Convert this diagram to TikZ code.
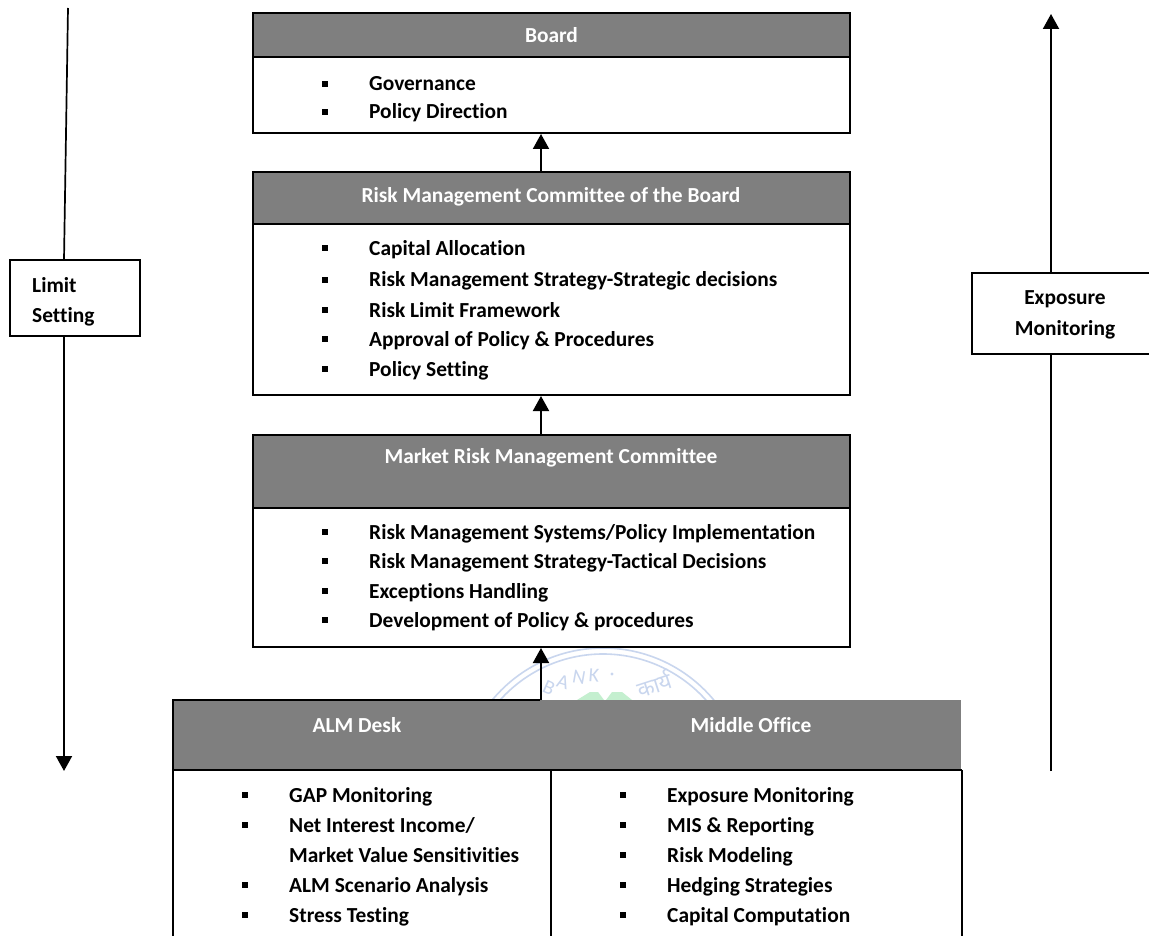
\documentclass[tikz,border=0pt]{standalone}
\usepackage{fontspec}
\setmainfont{Carlito}[Ligatures=NoCommon]
\newfontfamily\devfont[Script=Devanagari]{Noto Sans}
\usetikzlibrary{arrows.meta}
\definecolor{hdr}{HTML}{7F7F7F}
\definecolor{seal}{HTML}{C9D6EE}
\definecolor{sealg}{HTML}{C4EFCF}
\tikzset{
  x=1pt,y=-1pt,
  line/.style={black,line width=1.7pt},
  box/.style={draw=black,line width=1.8pt,fill=white},
  head/.style={draw=black,line width=1.8pt,fill=hdr},
  headtext/.style={text=white,font=\bfseries\fontsize{21.4}{24}\selectfont,anchor=center,inner sep=0pt},
  item/.style={font=\bfseries\fontsize{21.4}{24}\selectfont,anchor=base west,inner sep=0pt},
  lab/.style={font=\bfseries\fontsize{21.4}{24}\selectfont,inner sep=0pt,anchor=base},
  bul/.style={fill=black,minimum size=6pt,inner sep=0pt,outer sep=0pt,shape=rectangle},
  arr/.style={-{Triangle[length=15pt,width=16pt]},line width=2pt},
  wm/.style={text=seal,font=\fontsize{20}{24}\selectfont,inner sep=0pt}
}
\newcommand{\itm}[3]{\node[bul] at (#1-44,#3-7) {}; \node[item] at (#1,#3) {#2};}
\begin{document}
\begin{tikzpicture}
\useasboundingbox (0,0) rectangle (1149,936);
\fill[white] (0,0) rectangle (1149,936);
% watermark
\begin{scope}
\clip (400,640) rectangle (760,700);
\draw[seal,line width=1.6pt] (603,792) circle (144);
\draw[seal,line width=1.6pt] (603,792) circle (138);
\fill[sealg] (577,700) -- (590,692) -- (598,692) -- (604,700) -- cycle (606,700) -- (612,692) -- (622,692) -- (632,700) -- cycle;
\end{scope}
\node[wm,rotate=-24] at (549,688) {B};
\node[wm,rotate=-17] at (563,682) {A};
\node[wm,rotate=-10] at (579,677) {N};
\node[wm,rotate=-4] at (594,675) {K};
\node[wm,rotate=18,font=\devfont\fontsize{22}{26}\selectfont] at (654,684) {कार्य};
\fill[seal] (612,674) circle (1.6);
% Board
\node[head,minimum width=597pt,minimum height=44pt,outer sep=0pt,anchor=north west] (h1) at (253,13) {};
\node[box,minimum width=597pt,minimum height=76pt,outer sep=0pt,anchor=north west] (b1) at (253,57) {};
\node[headtext] at (h1.center) {Board};
\itm{369}{Governance}{91}
\itm{369}{Policy Direction}{119}
% RMCB
\node[head,minimum width=597pt,minimum height=52pt,outer sep=0pt,anchor=north west] (h2) at (253,172) {};
\node[box,minimum width=597pt,minimum height=171pt,outer sep=0pt,anchor=north west] (b2) at (253,224) {};
\node[headtext] at (551,197) {Risk Management Committee of the Board};
\itm{369}{Capital Allocation}{255}
\itm{369}{Risk Management Strategy-Strategic decisions}{287}
\itm{369}{Risk Limit Framework}{317}
\itm{369}{Approval of Policy \& Procedures}{346}
\itm{369}{Policy Setting}{376}
% MRMC
\node[head,minimum width=597pt,minimum height=73pt,outer sep=0pt,anchor=north west] (h3) at (253,435) {};
\node[box,minimum width=597pt,minimum height=139pt,outer sep=0pt,anchor=north west] (b3) at (253,508) {};
\node[headtext] at (551,458) {Market Risk Management Committee};
\itm{369}{Risk Management Systems/Policy Implementation}{539}
\itm{369}{Risk Management Strategy-Tactical Decisions}{568}
\itm{369}{Exceptions Handling}{598}
\itm{369}{Development of Policy \& procedures}{627}
% bottom
\node[head,draw=none,minimum width=788pt,minimum height=70pt,outer sep=0pt,anchor=north west] (h4) at (173,700) {};
\draw[line] (173,770) -- (173,700) -- (540,700);
\draw[line] (173,770) -- (962,770);
\draw[line] (173,936) -- (173,770);
\draw[line] (551,770) -- (551,936);
\draw[line] (962,770) -- (962,936);
\node[headtext] at (357,725) {ALM Desk};
\node[headtext] at (751,725) {Middle Office};
\itm{289}{GAP Monitoring}{802}
\itm{289}{Net Interest Income/}{832}
\node[item] at (289,862) {Market Value Sensitivities};
\itm{289}{ALM Scenario Analysis}{892}
\itm{289}{Stress Testing}{922}
\itm{667}{Exposure Monitoring}{802}
\itm{667}{MIS \& Reporting}{832}
\itm{667}{Risk Modeling}{862}
\itm{667}{Hedging Strategies}{892}
\itm{667}{Capital Computation}{922}
% arrows between
\coordinate (a1) at (541,172);
\coordinate (a1t) at (541,134);
\coordinate (a2) at (541,435);
\coordinate (a2t) at (541,396);
\coordinate (a3) at (541,700);
\coordinate (a3t) at (541,648);
\draw[arr] (a1) -- (a1t);
\draw[arr] (a2) -- (a2t);
\draw[arr] (a3) -- (a3t);
% Side
\coordinate (lt) at (68,8);
\coordinate (lm) at (64,260);
\coordinate (lc) at (64,336);
\coordinate (lb) at (64,771);
\coordinate (rt) at (1051,14);
\coordinate (rm) at (1051,273);
\coordinate (rc) at (1051,354);
\coordinate (rb) at (1051,771);
\node[box,minimum width=130pt,minimum height=76pt,outer sep=0pt,anchor=north west] (ls) at (10,260) {};
\node[box,minimum width=178pt,minimum height=81pt,outer sep=0pt,anchor=north west] (em) at (972,273) {};
\draw[line] (lt) -- (lm);
\draw[arr] (lc) -- (lb);
\draw[arr] (rm) -- (rt);
\draw[line] (rb) -- (rc);
\node[item] at (32,292) {Limit};
\node[item] at (32,322) {Setting};
\node[lab] at (1065,305) {Exposure};
\node[lab] at (1065,335) {Monitoring};
\end{tikzpicture}
\end{document}
